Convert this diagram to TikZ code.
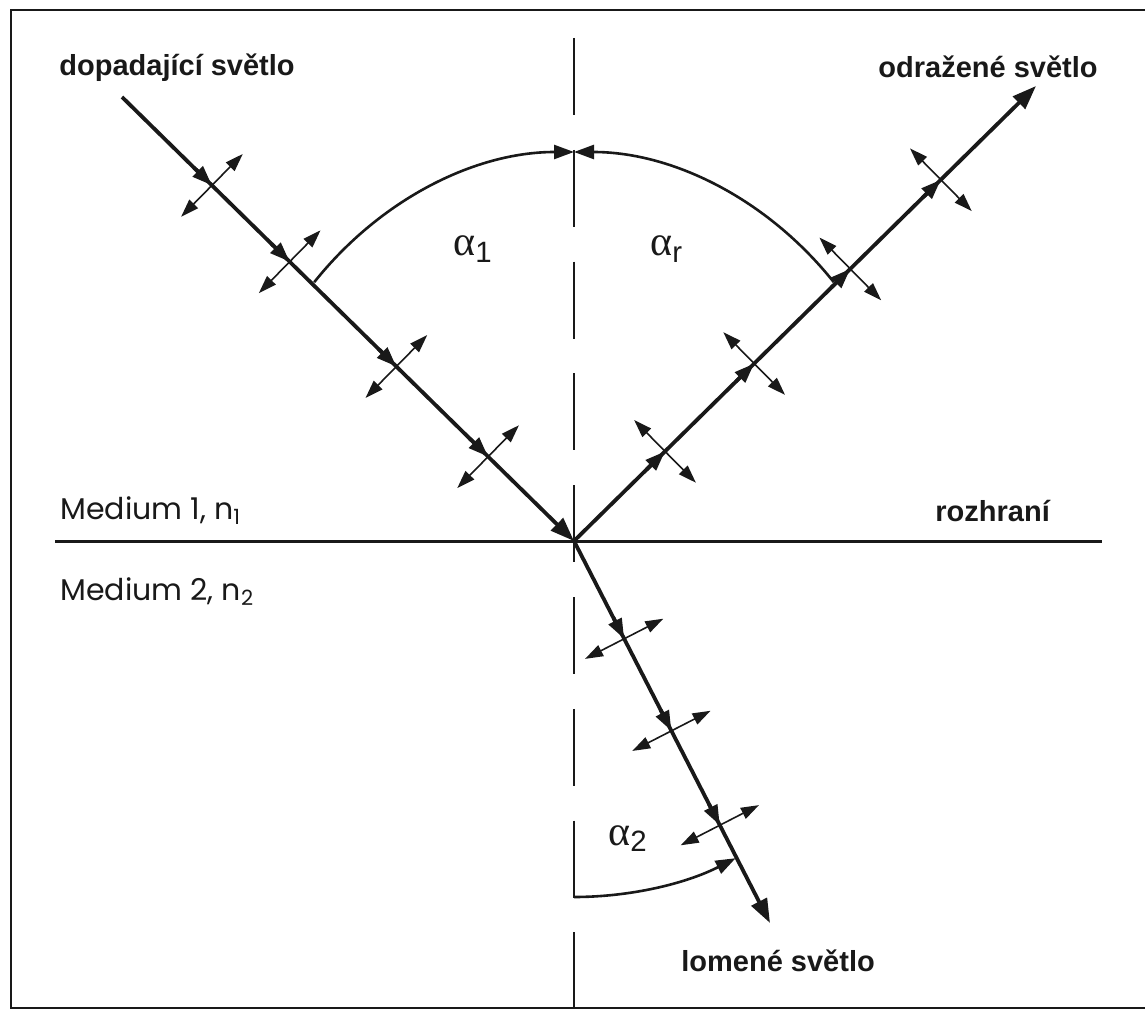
\documentclass[tikz,border=0pt]{standalone}
\usepackage{fontspec}
\setmainfont{Liberation Sans}
\newfontfamily\geofont{Poppins}
\newfontfamily\greekfont{Liberation Serif}
\usetikzlibrary{arrows.meta,calc}
\colorlet{ink}{black!90}

\begin{document}
\begin{tikzpicture}[x=0.5pt,y=-0.5pt,
    ray/.style={draw=ink,line width=1.9pt},
    endtip/.style={-{Triangle[length=12pt,width=8.5pt]}},
    raytip/.style={draw=ink,line width=1.9pt,-{Triangle[length=10pt,width=7pt]}},
    pol/.style={draw=ink,line width=0.8pt,{Triangle[length=9pt,width=6pt]}-{Triangle[length=9pt,width=6pt]}},
    anglearc/.style={draw=ink,line width=1.3pt},
    raylabel/.style={font=\bfseries\fontsize{14.5}{17}\selectfont,text=ink,inner sep=0pt,anchor=base west},
    mediumlabel/.style={font=\geofont\fontsize{15}{18}\selectfont,text=ink,inner sep=0pt,anchor=base west},
    anglelabel/.style={font=\greekfont\fontsize{21}{23}\selectfont,text=ink,inner sep=0pt,anchor=base west}]
            \useasboundingbox (0,0) rectangle (1145,1010);

            \coordinate (O) at (574,541);
            \coordinate (inc) at (122,97);
            \coordinate (refl) at (1036,86);
            \coordinate (refr) at (770,923);
            \coordinate (N1) at (574,38);
            \coordinate (N2) at (574,1010);
            \coordinate (L) at (55,541);
            \coordinate (R) at (1102,541);

            \draw[ink,line width=1pt] (1145,10) -- (11,10) -- (11,1008) -- (1145,1008);

            \draw[ink,line width=1.3pt,dash pattern=on 38.5pt off 17.4pt] (N1) -- (N2);
            \draw[ink,line width=1.5pt] (L) -- (R);

            \draw[ray,endtip] (inc) -- (O);
            \draw[ray,endtip] (O) -- (refl);
            \draw[ray,endtip] (O) -- (refr);

            \foreach \t [count=\i] in {0.199,0.371,0.607,0.810} {
                \coordinate (pi\i) at ($(inc)!\t!(O)$);
                \draw[raytip] ($(inc)!\t-0.04!(O)$) -- (pi\i);
                \draw[pol] ($(pi\i)!22pt!90:(O)$) -- ($(pi\i)!22pt!-90:(O)$);
            }
            \foreach \t [count=\i] in {0.197,0.390,0.598,0.794} {
                \coordinate (pr\i) at ($(O)!\t!(refl)$);
                \draw[raytip] ($(O)!\t-0.04!(refl)$) -- (pr\i);
                \draw[pol] ($(pr\i)!22pt!90:(refl)$) -- ($(pr\i)!22pt!-90:(refl)$);
            }
            \foreach \t [count=\i] in {0.256,0.497,0.744} {
                \coordinate (pt\i) at ($(O)!\t!(refr)$);
                \draw[raytip] ($(O)!\t-0.055!(refr)$) -- (pt\i);
                \draw[pol] ($(pt\i)!22pt!90:(refr)$) -- ($(pt\i)!22pt!-90:(refr)$);
            }

            \coordinate (a1) at ($(O)+(138.3:174pt and 194.5pt)$);
            \coordinate (a2) at ($(O)+(41.7:174pt and 194.5pt)$);
            \coordinate (a3) at ($(O)+(0,356)$);
            \draw[anglearc,-{Triangle[length=10pt,width=7pt]}] (a1) arc[start angle=138.3,end angle=90,x radius=174pt,y radius=194.5pt];
            \draw[anglearc,-{Triangle[length=10pt,width=7pt]}] (a2) arc[start angle=41.7,end angle=90,x radius=174pt,y radius=194.5pt];
            \draw[anglearc,-{Triangle[length=10pt,width=7pt]}] (a3) arc[start angle=270,end angle=297,radius=178pt];

            \node[raylabel] (tinc) at (59,76) {dopadající světlo};
            \node[raylabel] (trefl) at (878,78) {odražené světlo};
            \node[raylabel] (tbound) at (935,521) {rozhraní};
            \node[raylabel] (trefr) at (681,971) {lomené světlo};
            \node[mediumlabel] (tm1) at (60,519) {Medium 1, n\textsubscript{1}};
            \node[mediumlabel] (tm2) at (60,600) {Medium 2, n\textsubscript{2}};
            \node[anglelabel] (ta1) at (453,256) {α\textsubscript{\normalfont 1}};
            \node[anglelabel] (tar) at (650,256) {α\textsubscript{\normalfont r}};
            \node[anglelabel] (ta2) at (608,845) {α\textsubscript{\normalfont 2}};
        \end{tikzpicture}
\end{document}
